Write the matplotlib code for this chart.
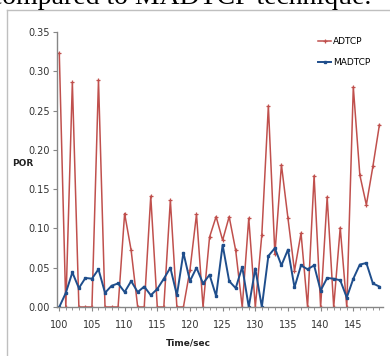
import numpy as np
import matplotlib
matplotlib.use("Agg")
import matplotlib.pyplot as plt
from matplotlib.lines import Line2D
from matplotlib.ticker import MultipleLocator, FormatStrFormatter

# ── Data ──────────────────────────────────────────────────────────────────────
time_sec = list(range(100, 150))

adtcp = [0.323, 0.0, 0.286, 0.0, 0.0, 0.0, 0.289, 0.0, 0.0, 0.0,
         0.119, 0.072, 0.0, 0.0, 0.141, 0.0, 0.0, 0.136, 0.0, 0.0,
         0.047, 0.118, 0.0, 0.089, 0.115, 0.085, 0.115, 0.072, 0.0, 0.113,
         0.0, 0.092, 0.256, 0.067, 0.181, 0.113, 0.046, 0.094, 0.0, 0.167,
         0.0, 0.140, 0.0, 0.101, 0.0, 0.280, 0.168, 0.130, 0.179, 0.232]

madtcp = [0.0, 0.018, 0.044, 0.024, 0.037, 0.036, 0.048, 0.018, 0.027, 0.030,
          0.019, 0.033, 0.019, 0.026, 0.015, 0.023, 0.036, 0.050, 0.015, 0.069,
          0.033, 0.050, 0.030, 0.041, 0.014, 0.079, 0.033, 0.024, 0.051, 0.0,
          0.049, 0.0, 0.065, 0.075, 0.053, 0.073, 0.025, 0.053, 0.048, 0.053,
          0.021, 0.037, 0.036, 0.034, 0.012, 0.036, 0.054, 0.056, 0.030, 0.026]

RED = "#C0504D"
BLUE = "#1F4E8C"
GRAY = "#868686"
FONT = ["Liberation Sans Narrow", "DejaVu Sans"]

W, H = 390, 356
fig = plt.figure(figsize=(W / 100, H / 100), dpi=100)
fig.patch.set_facecolor("white")

# document text above the chart (cut off at the top, as in the page)
fig.text(-10 / W, 1 - 4 / H, "compared to MADTCP technique.",
         fontsize=20, family="Liberation Serif", va="baseline", ha="left")

# chart area frame
fig.add_artist(Line2D([7 / W, 7 / W], [1 - 10 / H, 0], transform=fig.transFigure,
                      color="#BFBFBF", lw=1))
fig.add_artist(Line2D([7 / W, 1], [1 - 10 / H, 1 - 10 / H], transform=fig.transFigure,
                      color="#BFBFBF", lw=1))

ax = fig.add_axes([57 / W, 1 - 307 / H, (382.7 - 57) / W, (307 - 32) / H])

ax.plot(time_sec, adtcp, color=RED, lw=1.1, marker="+", ms=3, mew=0.9,
        label="ADTCP")
ax.plot(time_sec, madtcp, color=BLUE, lw=1.4, marker="s", ms=1.8,
        label="MADTCP")

ax.set_xlim(99.65, 149.5)
ax.set_ylim(0, 0.35)
ax.xaxis.set_major_locator(MultipleLocator(5))
ax.xaxis.set_minor_locator(MultipleLocator(1))
ax.yaxis.set_major_locator(MultipleLocator(0.05))
ax.yaxis.set_major_formatter(FormatStrFormatter("%.2f"))

for side in ["top", "right"]:
    ax.spines[side].set_visible(False)
for side in ["left", "bottom"]:
    ax.spines[side].set_color(GRAY)
    ax.spines[side].set_linewidth(1)

ax.tick_params(axis="both", which="both", direction="out", color=GRAY,
               labelsize=7, labelcolor="#333333")
ax.tick_params(axis="x", which="major", length=3, pad=6)
ax.tick_params(axis="x", which="minor", length=2)
ax.tick_params(axis="y", length=3, pad=2)
for lab in ax.get_xticklabels() + ax.get_yticklabels():
    lab.set_family(FONT)

fig.text(23 / W, 1 - 164 / H, "POR", fontsize=6.5, fontweight="bold",
         family=FONT, ha="center", va="center", color="#222222")
fig.text(188 / W, 1 - 343 / H, "Time/sec", fontsize=6.5, fontweight="bold",
         family=FONT, ha="center", va="center", color="#222222")

leg = ax.legend(loc="upper left", bbox_to_anchor=((313 - 57) / (382.7 - 57), 1.0),
                frameon=False, handlelength=1.4, handletextpad=0.2,
                labelspacing=1.3, borderaxespad=0.2,
                prop={"family": FONT, "size": 6.5})

fig.savefig("out.png", dpi=100)
